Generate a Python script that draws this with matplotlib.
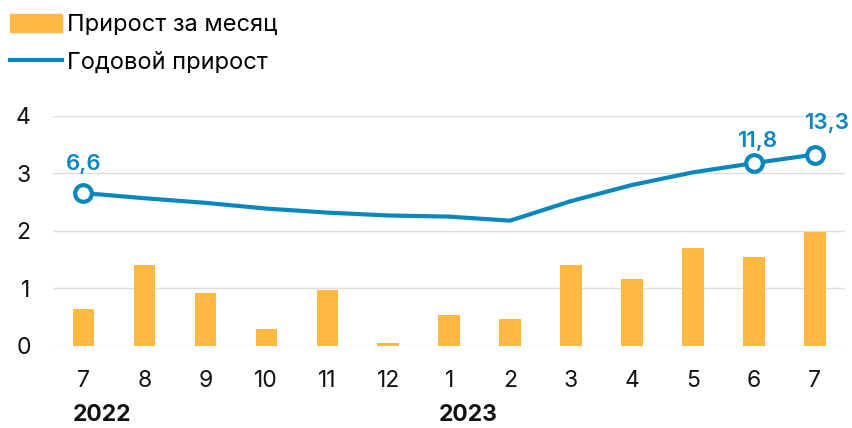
import numpy as np
import matplotlib.pyplot as plt
import matplotlib.transforms as mtransforms
from matplotlib.lines import Line2D
from matplotlib.patches import Patch

months = ['7', '8', '9', '10', '11', '12', '1', '2', '3', '4', '5', '6', '7']
monthly = [0.65, 1.41, 0.93, 0.29, 0.97, 0.05, 0.54, 0.47, 1.40, 1.16, 1.70, 1.55, 1.98]
annual = [6.6, 5.7, 4.9, 3.9, 3.2, 2.7, 2.5, 1.8, 5.2, 8.0, 10.2, 11.8, 13.3]
labelled = [0, 11, 12]
label_offsets = [(0, 21), (3, 16), (9, 23)]  # points
years = ['2022', '2023']
year_pos = [0, 6]

orange = '#FDB944'
blue = '#0A88BE'

plt.rcParams['font.family'] = ['Inter', 'DejaVu Sans']

fig = plt.figure(figsize=(8.53, 4.28), dpi=100)
ax = fig.add_axes([0.062, 0.1916, 0.929, 0.5374])
x = np.arange(len(months))

ax.bar(x, monthly, width=0.35, color=orange, zorder=2)
ax.set_ylim(0, 4)
ax.set_xlim(-0.5, len(months) - 0.5)
ax.set_yticks([0, 1, 2, 3, 4])
ax.set_xticks(x)
ax.set_xticklabels(months)
ax.grid(axis='y', color='#dddddd', linewidth=1, zorder=0)
for s in ax.spines.values():
    s.set_visible(False)
ax.tick_params(length=0, labelsize=16.5, colors='#111111')
ax.tick_params(axis='y', pad=16)
ax.tick_params(axis='x', pad=17)

# annual growth on hidden secondary scale
ax2 = ax.twinx()
ax2.set_ylim(-20, 20)
ax2.axis('off')
ax2.plot(x, annual, color=blue, linewidth=3, zorder=3)
ax2.plot(x[labelled], [annual[i] for i in labelled], 'o', ms=12, mfc='white',
         mec=blue, mew=3, zorder=4)
for i, off in zip(labelled, label_offsets):
    ax2.annotate(f'{annual[i]:.1f}'.replace('.', ','), (x[i], annual[i]),
                 xytext=off, textcoords='offset points', ha='center',
                 va='center', color=blue, fontsize=16, fontweight='semibold')

# year labels under the month ticks
trans = mtransforms.blended_transform_factory(ax.transData, fig.transFigure)
for yr, p in zip(years, year_pos):
    ax.text(p - 0.17, 0.03, yr, ha='left', va='center', fontsize=16.5,
            fontweight='bold', color='#111111', transform=trans)

handles = [Patch(color=orange), Line2D([0], [0], color=blue, linewidth=3)]
fig.legend(handles, ['Прирост за месяц', 'Годовой прирост'], loc='upper left',
           bbox_to_anchor=(10 / 853, 0.968), frameon=False, fontsize=17,
           handlelength=2.2, handleheight=0.8, handletextpad=0.2,
           labelspacing=0.65, borderpad=0, borderaxespad=0)

fig.savefig('out.png', dpi=100)
